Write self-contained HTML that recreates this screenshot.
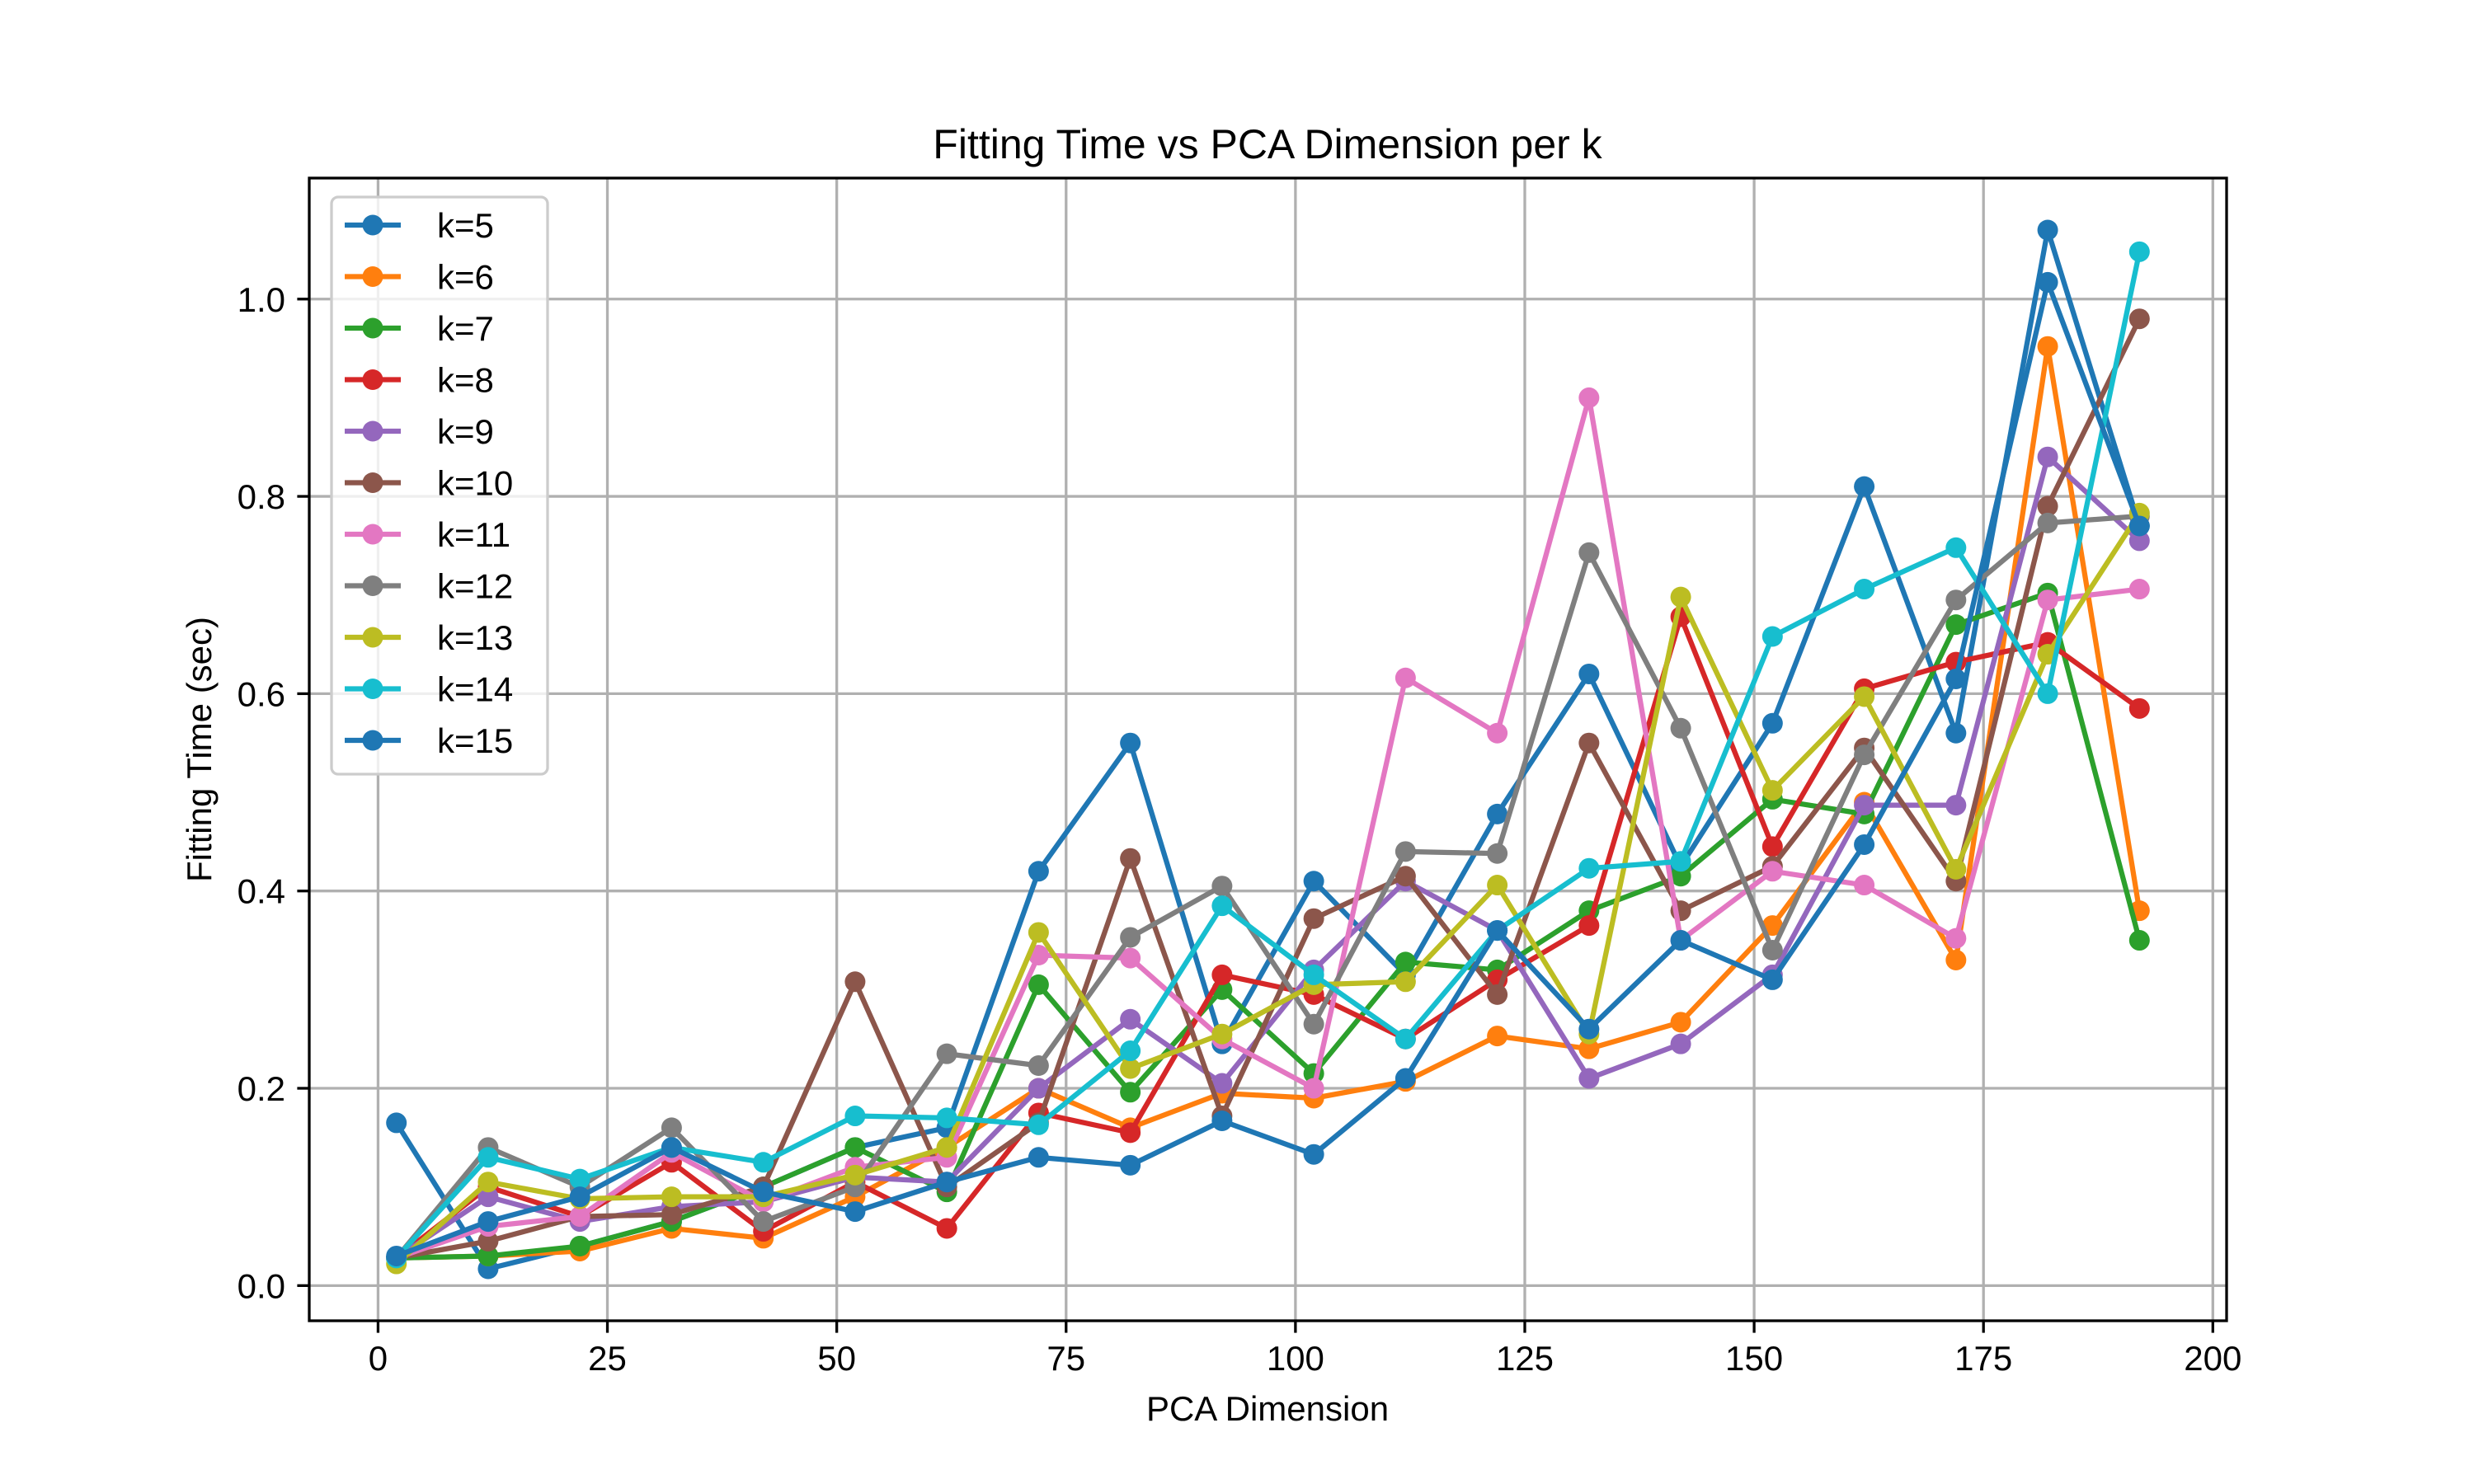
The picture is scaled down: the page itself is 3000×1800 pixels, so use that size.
<!DOCTYPE html>
<html><head><meta charset="utf-8"><style>
html,body{margin:0;padding:0;background:#fff}
svg{display:block;font-family:"Liberation Sans","DejaVu Sans",sans-serif}
</style></head><body>
<svg id="chart" width="3000" height="1800" viewBox="0 0 3000 1800" xmlns="http://www.w3.org/2000/svg">
<rect width="3000" height="1800" fill="#fff"/>
<text x="1537" y="192" font-size="50" text-anchor="middle">Fitting Time vs PCA Dimension per k</text>
<text x="1537" y="1723" font-size="42" text-anchor="middle">PCA Dimension</text>
<text x="0" y="0" font-size="42" text-anchor="middle" transform="translate(256,909) rotate(-90)">Fitting Time (sec)</text>
<g id="grid"></g>
<g id="series"></g>
<g id="axes"></g>
<g id="legend"></g>
</svg>
<script>
const xDims = [2,12,22,32,42,52,62,72,82,92,102,112,122,132,142,152,162,172,182,192];
const seriesLabels = ["k=5","k=6","k=7","k=8","k=9","k=10","k=11","k=12","k=13","k=14","k=15"];
const k5  = [0.165,0.017,0.04,0.065,0.1,0.14,0.16,0.42,0.55,0.245,0.41,0.315,0.478,0.62,0.425,0.57,0.81,0.56,1.07,0.77];
const k6  = [0.028,0.03,0.035,0.058,0.048,0.09,0.14,0.2,0.16,0.195,0.19,0.207,0.253,0.24,0.267,0.365,0.49,0.33,0.952,0.38];
const k7  = [0.028,0.03,0.04,0.065,0.1,0.14,0.095,0.305,0.196,0.3,0.215,0.328,0.32,0.38,0.415,0.493,0.478,0.67,0.702,0.35];
const k8  = [0.028,0.1,0.07,0.125,0.055,0.105,0.058,0.175,0.155,0.315,0.295,0.25,0.31,0.365,0.678,0.445,0.605,0.632,0.652,0.585];
const k9  = [0.028,0.09,0.065,0.08,0.085,0.11,0.105,0.2,0.27,0.205,0.32,0.41,0.36,0.21,0.245,0.315,0.487,0.487,0.84,0.755];
const k10 = [0.028,0.045,0.07,0.072,0.1,0.308,0.1,0.165,0.433,0.172,0.372,0.415,0.295,0.55,0.38,0.425,0.545,0.41,0.79,0.98];
const k11 = [0.028,0.06,0.07,0.135,0.085,0.12,0.13,0.335,0.332,0.25,0.2,0.616,0.56,0.9,0.35,0.42,0.406,0.352,0.695,0.706];
const k12 = [0.028,0.14,0.1,0.16,0.065,0.1,0.235,0.223,0.353,0.405,0.265,0.44,0.438,0.743,0.565,0.34,0.538,0.695,0.773,0.78];
const k13 = [0.022,0.105,0.088,0.09,0.09,0.112,0.14,0.358,0.22,0.255,0.305,0.308,0.406,0.255,0.698,0.502,0.597,0.422,0.64,0.783];
const k14 = [0.028,0.13,0.108,0.14,0.125,0.172,0.17,0.163,0.238,0.385,0.315,0.25,0.36,0.423,0.43,0.658,0.706,0.748,0.6,1.048];
const k15 = [0.03,0.065,0.09,0.14,0.095,0.075,0.105,0.13,0.122,0.167,0.133,0.21,0.36,0.26,0.35,0.31,0.447,0.615,1.017,0.77];
const xTicks = [0,25,50,75,100,125,150,175,200];
const yTicks = [0.0,0.2,0.4,0.6,0.8,1.0];
const yTickLabels = ["0.0","0.2","0.4","0.6","0.8","1.0"];

const allSeries = [k5,k6,k7,k8,k9,k10,k11,k12,k13,k14,k15];
const colors = ["#1f77b4","#ff7f0e","#2ca02c","#d62728","#9467bd","#8c564b","#e377c2","#7f7f7f","#bcbd22","#17becf","#1f77b4"];
const NS="http://www.w3.org/2000/svg";
const L=375,R=2700,T=216,B=1602;
const xmin0=Math.min(...xDims),xmax0=Math.max(...xDims),xm=(xmax0-xmin0)*0.05;
const X0=xmin0-xm,X1=xmax0+xm;
const flat=allSeries.flat();
const ymin0=Math.min(...flat),ymax0=Math.max(...flat),ym=(ymax0-ymin0)*0.05;
const Y0=ymin0-ym,Y1=ymax0+ym;
const sx=v=>L+(v-X0)/(X1-X0)*(R-L);
const sy=v=>B-(v-Y0)/(Y1-Y0)*(B-T);
function mk(tag,attrs,parent){const e=document.createElementNS(NS,tag);for(const k in attrs)e.setAttribute(k,attrs[k]);parent.appendChild(e);return e;}
const grid=document.getElementById('grid'),axes=document.getElementById('axes'),ser=document.getElementById('series'),leg=document.getElementById('legend');
xTicks.forEach(t=>{const x=sx(t);
 const g=mk('line',{x1:x,x2:x,y1:T,y2:B,stroke:'#b0b0b0','stroke-width':3.3},grid);
 
 
 const tk=mk('line',{x1:x,x2:x,y1:B,y2:B+14.6,stroke:'#000','stroke-width':3.3},axes);
 
 
 const tx=mk('text',{x:x,y:B+60,'font-size':42,'text-anchor':'middle'},axes);tx.textContent=t;
 
 
});
yTicks.forEach((t,i)=>{const y=sy(t);
 const g=mk('line',{x1:L,x2:R,y1:y,y2:y,stroke:'#b0b0b0','stroke-width':3.3},grid);
 
 
 const tk=mk('line',{x1:L-14.6,x2:L,y1:y,y2:y,stroke:'#000','stroke-width':3.3},axes);
 
 
 const tx=mk('text',{x:L-29,y:y+15,'font-size':42,'text-anchor':'end'},axes);tx.textContent=yTickLabels[i];
 
 
});
const frame=mk('rect',{x:L,y:T,width:R-L,height:B-T,fill:'none',stroke:'#000','stroke-width':3.3},axes);


allSeries.forEach((s,i)=>{
 const g=mk('g',{},ser);
 
 
 const pts=s.map((v,j)=>sx(xDims[j])+','+sy(v)).join(' ');
 const pl=mk('polyline',{points:pts,fill:'none',stroke:colors[i],'stroke-width':6.25,'stroke-linejoin':'round','stroke-linecap':'square'},g);
 
 
 s.forEach((v,j)=>{const c=mk('circle',{cx:sx(xDims[j]),cy:sy(v),r:12.5,fill:colors[i]},g);
  
  });
});
const lb=mk('rect',{x:402,y:239,width:262,height:700,rx:8,fill:'#fff','fill-opacity':0.8,stroke:'#cccccc','stroke-width':3.3},leg);


seriesLabels.forEach((lab,i)=>{const y=273+i*62.5;
 const g=mk('g',{},leg);
 
 
 mk('line',{x1:418,x2:486,y1:y,y2:y,stroke:colors[i],'stroke-width':6.25},g);
 mk('circle',{cx:452,cy:y,r:12.5,fill:colors[i]},g);
 const t=mk('text',{x:530,y:y+15,'font-size':42},g);t.textContent=lab;
});
</script>
</body></html>
